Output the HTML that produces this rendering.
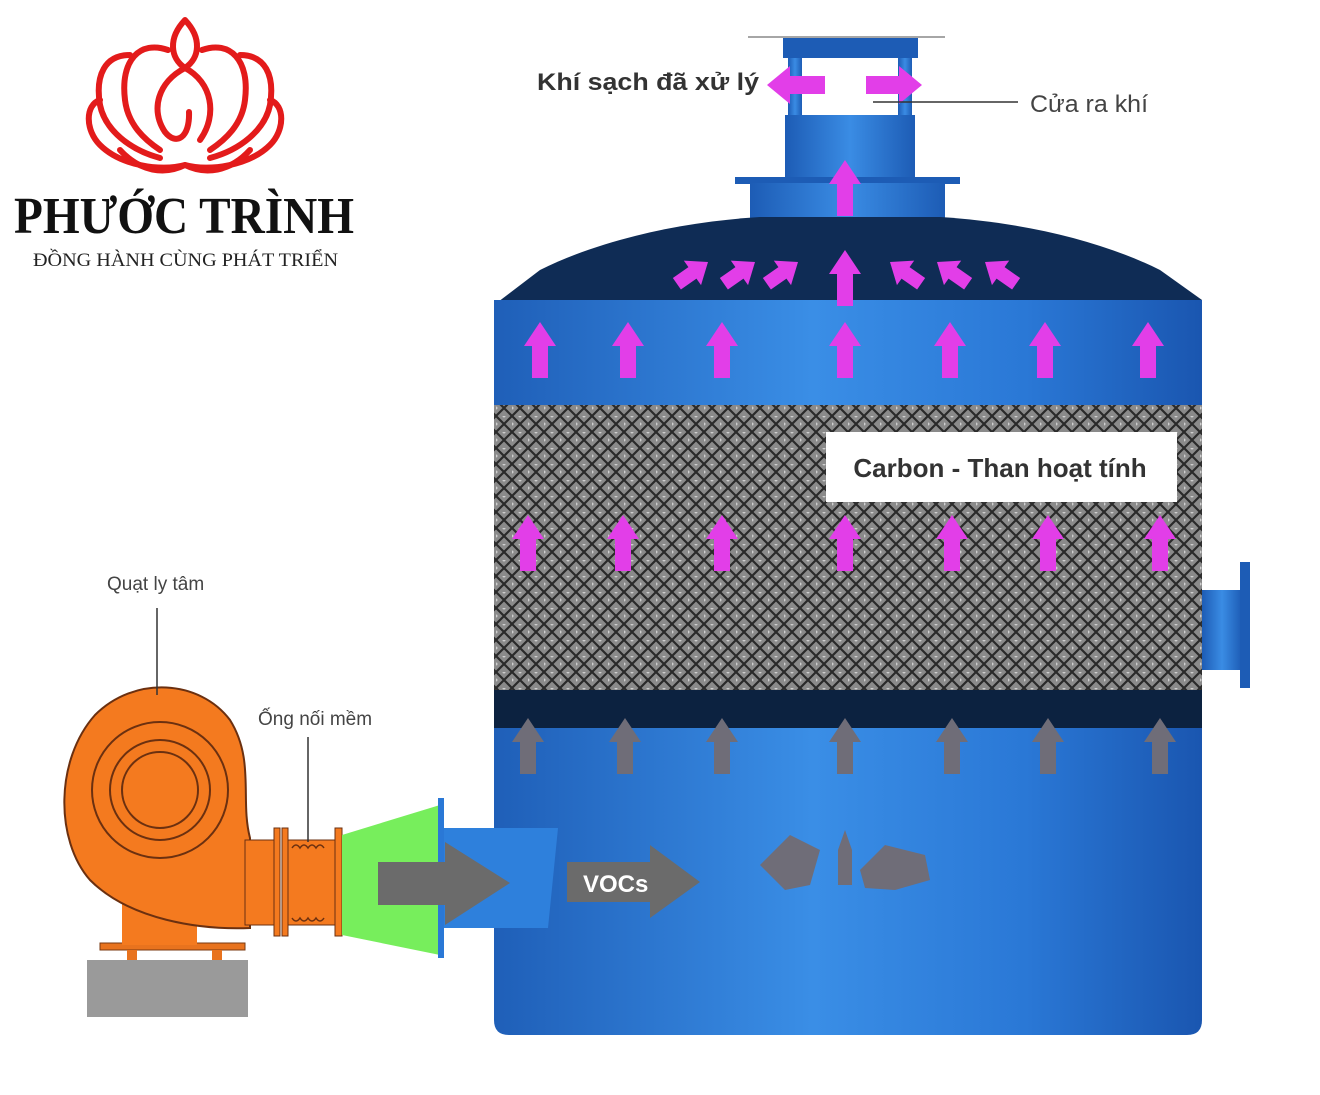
<!DOCTYPE html>
<html><head><meta charset="utf-8"><style>
html,body{margin:0;padding:0;background:#fff;}
svg{display:block}
</style></head><body>
<svg width="1320" height="1095" viewBox="0 0 1320 1095" xmlns="http://www.w3.org/2000/svg">
<defs>
<linearGradient id="tank" x1="0" x2="1" y1="0" y2="0">
<stop offset="0" stop-color="#1f5fb8"/><stop offset="0.45" stop-color="#3a8ee6"/><stop offset="0.75" stop-color="#2a78d6"/><stop offset="1" stop-color="#1a56b0"/>
</linearGradient>
<linearGradient id="pipe" x1="0" x2="1" y1="0" y2="0">
<stop offset="0" stop-color="#1d5cb5"/><stop offset="0.5" stop-color="#3a8ce4"/><stop offset="1" stop-color="#1d5cb5"/>
</linearGradient>
<pattern id="mesh" width="16" height="16" patternUnits="userSpaceOnUse">
<rect width="16" height="16" fill="#8a8a8a"/>
<path d="M0,0 L16,16 M16,0 L0,16" stroke="#2a2a2a" stroke-width="2.2"/>
<circle cx="8" cy="0" r="1.5" fill="#cfcfcf"/><circle cx="0" cy="8" r="1.5" fill="#cfcfcf"/>
</pattern>
<path id="ua" d="M0,0 L16,24 L8,24 L8,56 L-8,56 L-8,24 L-16,24 Z"/>
<path id="sa" d="M0,0 L15,19 L7,19 L7,38 L-7,38 L-7,19 L-15,19 Z"/>
</defs>

<!-- logo -->
<g fill="none" stroke="#e31b1b" stroke-width="6" stroke-linejoin="round" stroke-linecap="round">
<path d="M185,20 C168,38 170,58 185,68 C200,58 202,38 185,20 Z"/>
<path d="M185,68 C158,82 150,110 165,132 C176,146 190,138 189,112"/>
<path d="M185,68 C212,82 218,115 200,140"/>
<path d="M168,50 C140,40 120,60 125,100 C128,125 145,140 160,150"/>
<path d="M202,50 C230,40 250,60 245,100 C242,125 225,140 210,150"/>
<path d="M130,55 C105,55 95,75 100,105 C105,130 130,150 160,158"/>
<path d="M240,55 C265,55 275,75 270,105 C265,130 240,150 210,158"/>
<path d="M100,100 C85,105 85,130 100,145 C120,165 160,172 185,165 C210,172 250,165 270,145 C285,130 285,105 270,100"/>
<path d="M120,150 C140,172 165,175 185,165 C205,175 230,172 250,150"/>
</g>
<text x="14" y="233" font-family="Liberation Serif, serif" font-weight="bold" font-size="52" fill="#111" textLength="340" lengthAdjust="spacingAndGlyphs">PHƯỚC TRÌNH</text>
<text x="33" y="266" font-family="Liberation Serif, serif" font-size="19" fill="#222" textLength="305" lengthAdjust="spacingAndGlyphs">ĐỒNG HÀNH CÙNG PHÁT TRIỂN</text>

<!-- stack -->
<line x1="748" y1="37" x2="945" y2="37" stroke="#888" stroke-width="1.5"/>
<rect x="783" y="38" width="135" height="20" fill="#1d5cb5"/>
<rect x="788" y="58" width="14" height="60" fill="url(#pipe)"/>
<rect x="898" y="58" width="14" height="60" fill="url(#pipe)"/>
<rect x="785" y="115" width="130" height="65" fill="url(#pipe)"/>
<rect x="735" y="177" width="225" height="7" fill="#1d5cb5"/>
<rect x="750" y="183" width="195" height="40" fill="url(#pipe)"/>

<!-- dome -->
<path d="M494,305 L540,270 C600,240 680,222 760,217 L940,217 C1020,222 1100,240 1160,270 L1202,300 Z" fill="#0f2c55"/>
<!-- tank body -->
<path d="M494,300 L1202,300 L1202,1020 Q1202,1035 1187,1035 L509,1035 Q494,1035 494,1020 Z" fill="url(#tank)"/>
<rect x="494" y="405" width="708" height="287" fill="url(#mesh)"/>
<rect x="494" y="690" width="708" height="38" fill="#0c2240"/>
<!-- right nozzle -->
<rect x="1202" y="590" width="40" height="80" fill="url(#pipe)"/>
<rect x="1240" y="562" width="10" height="126" fill="#1d5cb5"/>

<!-- label -->
<rect x="826" y="432" width="351" height="70" fill="#fff"/>
<text x="1000" y="477" text-anchor="middle" font-family="Liberation Sans, sans-serif" font-weight="bold" font-size="26" fill="#333">Carbon - Than hoạt tính</text>

<!-- magenta arrows -->
<g fill="#e23ee8">
<use href="#ua" x="540" y="322"/><use href="#ua" x="628" y="322"/><use href="#ua" x="722" y="322"/><use href="#ua" x="845" y="322"/><use href="#ua" x="950" y="322"/><use href="#ua" x="1045" y="322"/><use href="#ua" x="1148" y="322"/>
<use href="#ua" x="528" y="515"/><use href="#ua" x="623" y="515"/><use href="#ua" x="722" y="515"/><use href="#ua" x="845" y="515"/><use href="#ua" x="952" y="515"/><use href="#ua" x="1048" y="515"/><use href="#ua" x="1160" y="515"/>
<use href="#ua" x="845" y="250"/>
<use href="#ua" x="845" y="160"/>
<use href="#sa" transform="translate(708,262) rotate(55)"/>
<use href="#sa" transform="translate(755,262) rotate(55)"/>
<use href="#sa" transform="translate(798,262) rotate(55)"/>
<use href="#sa" transform="translate(890,262) rotate(-55)"/>
<use href="#sa" transform="translate(937,262) rotate(-55)"/>
<use href="#sa" transform="translate(985,262) rotate(-55)"/>
<path d="M767,85 L790,66 L790,76 L825,76 L825,94 L790,94 L790,104 Z"/>
<path d="M922,85 L899,66 L899,76 L866,76 L866,94 L899,94 L899,104 Z"/>
</g>
<!-- gray arrows -->
<g fill="#6f6d78">
<use href="#ua" x="528" y="718"/><use href="#ua" x="625" y="718"/><use href="#ua" x="722" y="718"/><use href="#ua" x="845" y="718"/><use href="#ua" x="952" y="718"/><use href="#ua" x="1048" y="718"/><use href="#ua" x="1160" y="718"/>
<path d="M760,865 L790,835 L820,850 L810,885 L785,890 Z"/>
<path d="M838,850 L845,830 L852,850 L852,885 L838,885 Z"/>
<path d="M860,870 L885,845 L925,855 L930,880 L895,890 L865,888 Z"/>
</g>

<!-- fan -->
<rect x="87" y="960" width="161" height="57" fill="#9a9a9a"/>
<rect x="100" y="943" width="145" height="7" fill="#e8731e" stroke="#7a3a10"/>
<rect x="127" y="950" width="10" height="10" fill="#e8731e"/><rect x="212" y="950" width="10" height="10" fill="#e8731e"/>
<rect x="122" y="895" width="75" height="50" fill="#f47a1f"/>
<path d="M250,838 L250,928 C200,930 130,920 90,880 C55,840 55,760 95,715 C135,675 200,680 230,720 C255,760 240,800 250,838 Z" fill="#f47a1f" stroke="#6b3010" stroke-width="2"/>
<circle cx="160" cy="790" r="68" fill="none" stroke="#6b3010" stroke-width="2"/>
<circle cx="160" cy="790" r="50" fill="none" stroke="#6b3010" stroke-width="2"/>
<circle cx="160" cy="790" r="38" fill="none" stroke="#6b3010" stroke-width="2"/>
<rect x="245" y="840" width="35" height="85" fill="#f47a1f" stroke="#6b3010"/>
<rect x="274" y="828" width="6" height="108" fill="#f47a1f" stroke="#6b3010"/>
<rect x="282" y="828" width="6" height="108" fill="#f47a1f" stroke="#6b3010"/>
<rect x="288" y="840" width="48" height="85" fill="#f47a1f" stroke="#6b3010"/>
<path d="M292,848 q4,-6 8,0 q4,-6 8,0 q4,-6 8,0 q4,-6 8,0 M292,918 q4,6 8,0 q4,6 8,0 q4,6 8,0 q4,6 8,0" fill="none" stroke="#6b3010" stroke-width="1.5"/>
<rect x="335" y="828" width="7" height="108" fill="#f47a1f" stroke="#6b3010"/>
<path d="M342,835 L440,805 L440,955 L342,935 Z" fill="#77ee5c"/>
<rect x="438" y="798" width="6" height="160" fill="#2a78d6"/>
<path d="M444,828 L558,828 L548,928 L444,928 Z" fill="#2e80dc"/>
<g fill="#6b6b6b">
<path d="M378,862 L445,862 L445,842 L510,883 L445,925 L445,905 L378,905 Z"/>
<path d="M567,862 L650,862 L650,845 L700,882 L650,918 L650,902 L567,902 Z"/>
</g>
<text x="583" y="892" font-family="Liberation Sans, sans-serif" font-weight="bold" font-size="24" fill="#fff">VOCs</text>

<!-- labels -->
<g font-family="Liberation Sans, sans-serif">
<text x="537" y="90" font-weight="bold" font-size="24" fill="#333" textLength="222" lengthAdjust="spacingAndGlyphs">Khí sạch đã xử lý</text>
<line x1="873" y1="102" x2="1018" y2="102" stroke="#333" stroke-width="1.5"/>
<text x="1030" y="112" font-size="24" fill="#444" textLength="118" lengthAdjust="spacingAndGlyphs">Cửa ra khí</text>
<text x="107" y="590" font-size="19" fill="#444">Quạt ly tâm</text>
<line x1="157" y1="608" x2="157" y2="695" stroke="#333" stroke-width="1.5"/>
<text x="258" y="725" font-size="19" fill="#444">Ống nối mềm</text>
<line x1="308" y1="737" x2="308" y2="842" stroke="#333" stroke-width="1.5"/>
</g>
</svg>
</body></html>
